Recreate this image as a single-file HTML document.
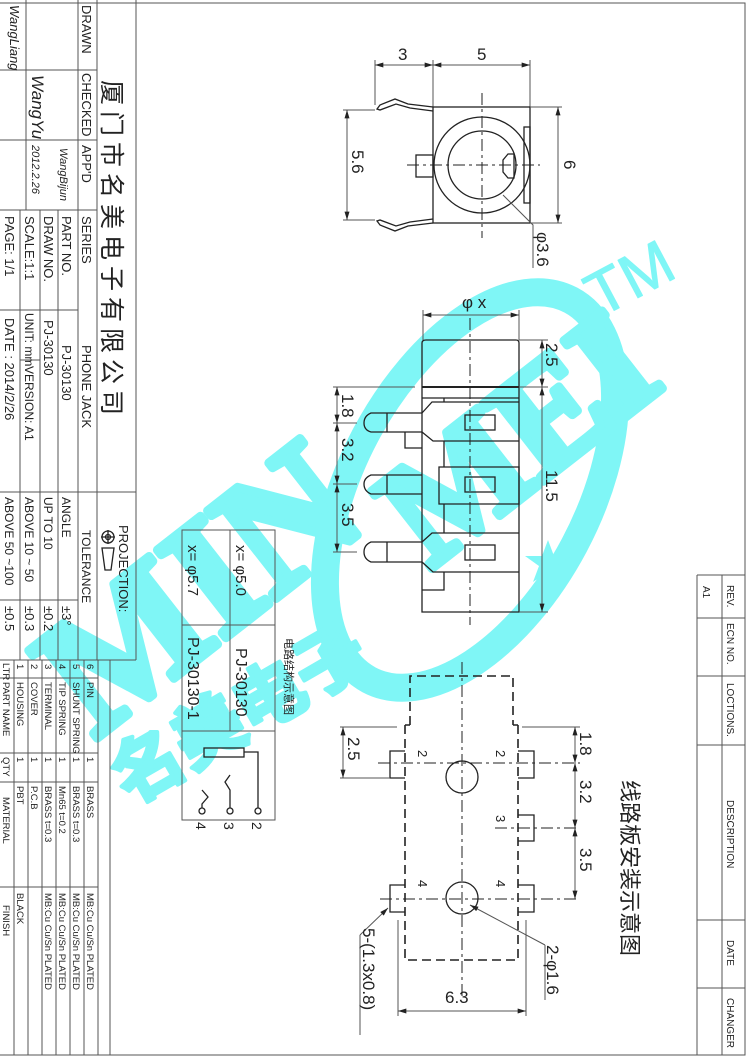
<!DOCTYPE html>
<html><head><meta charset="utf-8"><style>
html,body{margin:0;padding:0;background:#fff}
svg{display:block}
text{font-family:"Liberation Sans","Noto Sans CJK SC",sans-serif;fill:#222}
.s{stroke:#222;fill:none;stroke-width:1.3}
.g{stroke:#555;fill:none;stroke-width:1}
.d{stroke:#222;fill:none;stroke-width:1;stroke-dasharray:12 4 3 4}
.dd{stroke:#222;fill:none;stroke-width:1.6;stroke-dasharray:9 5}
.w{fill:#7ff6f6}
.wm{fill:#7ff6f6;stroke:#7ff6f6;stroke-linejoin:round}
</style></head><body>
<svg width="747" height="1060" viewBox="0 0 747 1060" xmlns="http://www.w3.org/2000/svg">
<defs>
<marker id="a" viewBox="0 0 10 6" refX="10" refY="3" markerWidth="10" markerHeight="5" orient="auto-start-reverse"><path d="M0,0 L10,3 L0,6 z" fill="#222"/></marker>
</defs>

<!-- watermark -->
<g>
<ellipse cx="470" cy="490" rx="118" ry="215" transform="rotate(28 470 490)" fill="none" stroke="#7ff6f6" stroke-width="28"/>
<text class="wm" transform="translate(95,740) rotate(-38)" style="font-family:'Liberation Serif',serif;font-weight:bold;font-size:170px;stroke-width:9">MIN</text>
<text class="wm" transform="translate(430,570) rotate(-38)" style="font-family:'Liberation Serif',serif;font-weight:bold;font-size:150px;stroke-width:9">MEI</text>
<text class="wm" transform="translate(600,318) rotate(-28)" style="font-size:62px;stroke-width:1">TM</text>
<text class="wm" transform="translate(130,805) rotate(-30)" style="font-size:70px;font-weight:bold;stroke-width:4;font-family:'Noto Sans CJK SC',sans-serif">名美电子</text>
<path class="w" d="M548,540 L554,556 L571,556 L557,566 L563,582 L548,572 L533,582 L539,566 L525,556 L542,556 z"/>
</g>

<!-- borders -->
<path class="g" d="M0,3 H745 V1055 H0"/>
<!-- title block -->
<path class="g" d="M136,0 V660 M97,0 V660 M78,0 V660 M0,660 H136 M0,70 H97 M0,140 H97 M0,210 H97 M26,0 V210 M58,210 V660 M40,210 V660 M20,210 V660 M0,310 H78 M20,360 H40 M0,492 H136 M0,600 H78"/>
<g font-size="13">
<text transform="translate(82,5) rotate(90)">DRAWN</text>
<text transform="translate(82,73) rotate(90)">CHECKED</text>
<text transform="translate(82,145) rotate(90)">APP'D</text>
<text transform="translate(82,216) rotate(90)">SERIES</text>
<text transform="translate(82,345) rotate(90)">PHONE JACK</text>
<text transform="translate(62,216) rotate(90)">PART  NO.</text>
<text transform="translate(62,345) rotate(90)">PJ-30130</text>
<text transform="translate(44,216) rotate(90)">DRAW NO.</text>
<text transform="translate(44,320) rotate(90)">PJ-30130</text>
<text transform="translate(25,216) rotate(90)">SCALE:1:1</text>
<text transform="translate(25,313) rotate(90)" font-size="12">UNIT: mm</text>
<text transform="translate(25,366) rotate(90)" font-size="12">VERSION: A1</text>
<text transform="translate(5,216) rotate(90)">PAGE:  1/1</text>
<text transform="translate(5,318) rotate(90)">DATE : 2014/2/26</text>
<text transform="translate(119,525) rotate(90)">PROJECTION:</text>
<text transform="translate(82,530) rotate(90)" font-size="12">TOLERANCE</text>
<text transform="translate(62,497) rotate(90)" font-size="12">ANGLE</text>
<text transform="translate(44,497) rotate(90)" font-size="12">UP TO 10</text>
<text transform="translate(25,497) rotate(90)" font-size="12">ABOVE 10 ~ 50</text>
<text transform="translate(5,497) rotate(90)" font-size="12">ABOVE 50 ~100</text>
<text transform="translate(62,606) rotate(90)">±3°</text>
<text transform="translate(44,606) rotate(90)">±0.2</text>
<text transform="translate(25,606) rotate(90)">±0.3</text>
<text transform="translate(5,606) rotate(90)">±0.5</text>
</g>
<text transform="translate(103,80) rotate(90)" font-size="25" style="font-family:'Noto Sans CJK SC',sans-serif;letter-spacing:6px">厦门市名美电子有限公司</text>
<g font-style="italic" style="font-family:'Liberation Serif',serif">
<text transform="translate(10,5) rotate(90)" font-size="13">WangLiang</text>
<text transform="translate(32,75) rotate(90)" font-size="17">WangYu</text>
<text transform="translate(60,148) rotate(90)" font-size="11">WangBijun</text>
<text transform="translate(32,145) rotate(90)" font-size="11">2012.2.26</text>
</g>
<!-- projection symbol -->
<circle cx="108" cy="537" r="6" class="s"/><circle cx="108" cy="537" r="2.5" class="s"/>
<path class="s" d="M101,537 H115 M108,530 V544 M102,548 L114,548 L111,570 L105,570 z"/>

<!-- parts list -->
<path class="g" d="M110,660 V1055 M14,660 V1055 M28,660 V1055 M42,660 V1055 M56,660 V1055 M70,660 V1055 M84,660 V1055 M98,660 V1055 M0,678 H98 M0,753 H98 M0,782 H98 M0,887 H98"/>
<g font-size="9.5">
<text transform="translate(3,663) rotate(90)">LTR</text>
<text transform="translate(3,682) rotate(90)">PART NAME</text>
<text transform="translate(3,757) rotate(90)">QTY</text>
<text transform="translate(3,797) rotate(90)">MATERIAL</text>
<text transform="translate(3,905) rotate(90)">FINISH</text>
<text transform="translate(17,664) rotate(90)">1</text><text transform="translate(17,682) rotate(90)">HOUSING</text><text transform="translate(17,757) rotate(90)">1</text><text transform="translate(17,786) rotate(90)">PBT</text><text transform="translate(17,893) rotate(90)">BLACK</text>
<text transform="translate(31,664) rotate(90)">2</text><text transform="translate(31,682) rotate(90)">COVER</text><text transform="translate(31,757) rotate(90)">1</text><text transform="translate(31,786) rotate(90)">P.C.B</text>
<text transform="translate(45,664) rotate(90)">3</text><text transform="translate(45,682) rotate(90)">TERMINAL</text><text transform="translate(45,757) rotate(90)">1</text><text transform="translate(45,786) rotate(90)">BRASS  t=0.3</text><text transform="translate(45,893) rotate(90)">MB:Cu   Cu/Sn   PLATED</text>
<text transform="translate(59,664) rotate(90)">4</text><text transform="translate(59,682) rotate(90)">TIP  SPRING</text><text transform="translate(59,757) rotate(90)">1</text><text transform="translate(59,786) rotate(90)">Mn65  t=0.2</text><text transform="translate(59,893) rotate(90)">MB:Cu   Cu/Sn   PLATED</text>
<text transform="translate(73,664) rotate(90)">5</text><text transform="translate(73,682) rotate(90)">SHUNT  SPRING</text><text transform="translate(73,757) rotate(90)">1</text><text transform="translate(73,786) rotate(90)">BRASS  t=0.3</text><text transform="translate(73,893) rotate(90)">MB:Cu   Cu/Sn   PLATED</text>
<text transform="translate(87,664) rotate(90)">6</text><text transform="translate(87,682) rotate(90)">PIN</text><text transform="translate(87,757) rotate(90)">1</text><text transform="translate(87,786) rotate(90)">BRASS</text><text transform="translate(87,893) rotate(90)">MB:Cu   Cu/Sn   PLATED</text>
</g>

<!-- revision table -->
<path class="g" d="M697,575 H745 M697,575 V1055 M722,575 V1055 M697,618 H745 M697,676 H745 M697,745 H745 M697,920 H745 M697,988 H745"/>
<g font-size="10">
<text transform="translate(727,585) rotate(90)">REV.</text>
<text transform="translate(727,623) rotate(90)">ECN NO.</text>
<text transform="translate(727,683) rotate(90)">LOCTIONS.</text>
<text transform="translate(727,800) rotate(90)">DESCRIPTION</text>
<text transform="translate(727,940) rotate(90)">DATE</text>
<text transform="translate(727,998) rotate(90)">CHANGER</text>
<text transform="translate(703,586) rotate(90)">A1</text>
</g>
<text transform="translate(622,780) rotate(90)" font-size="22" style="font-family:'Noto Sans CJK SC',sans-serif">线路板安装示意图</text>

<!-- top view -->
<g>
<path class="g" d="M375,60 V105 M433,60 V107 M530,60 V107"/>
<path class="g" d="M375,65 H433" marker-start="url(#a)" marker-end="url(#a)"/>
<path class="g" d="M433,65 H530" marker-start="url(#a)" marker-end="url(#a)"/>
<text x="398" y="60" font-size="17">3</text><text x="477" y="60" font-size="17">5</text>
<rect x="433" y="107" width="97" height="116" class="s"/>
<rect x="524" y="127" width="6" height="76" class="s"/>
<circle cx="482" cy="165" r="48" class="s"/><circle cx="482" cy="165" r="34" class="s"/>
<path class="s" d="M508,154 L503,160 L503,172 L508,178 L514,178 L514,154 z"/>
<rect x="416" y="155" width="17" height="22" class="s"/>
<path class="s" d="M433,107 L408,104 L395,99 L380,105 L377,109 L380,110 L396,104 L410,108 L433,111"/>
<path class="s" d="M433,223 L408,226 L395,231 L380,225 L377,221 L380,220 L396,226 L410,222 L433,219"/>
<path class="d" d="M407,165 H540 M482,93 V238"/>
<path class="g" d="M343,110 H375 M343,220 H375"/>
<path class="g" d="M347,110 V220" marker-start="url(#a)" marker-end="url(#a)"/>
<text transform="translate(352,150) rotate(90)" font-size="17">5.6</text>
<path class="g" d="M530,107 H562 M530,223 H562"/>
<path class="g" d="M558,107 V223" marker-start="url(#a)" marker-end="url(#a)"/>
<text transform="translate(564,160) rotate(90)" font-size="17">6</text>
<path class="g" d="M503,195 L533,225 V268"/>
<text transform="translate(537,232) rotate(90)" font-size="17">φ3.6</text>
</g>

<!-- side view -->
<g>
<path class="g" d="M423,310 V340 M519,310 V340"/>
<path class="g" d="M423,315 H519" marker-start="url(#a)" marker-end="url(#a)"/>
<text x="462" y="308" font-size="17">φ x</text>
<path class="s" d="M426,340 H516 Q519,340 519,343 V612 H422 V343 Q422,340 426,340 z"/>
<path class="s" d="M422,387 H519" style="stroke-width:2"/>
<path class="s" d="M422,398 H519 M444,398 V402"/>
<path class="s" d="M422,413 H371 Q364,416 364,423 Q364,430 371,432 H422 M387,413 V432"/>
<path class="s" d="M422,413 L432,402 H519 M422,432 L433,441 H519"/>
<path class="s" d="M405,432 V448 H422"/>
<path class="s" d="M422,475 H371 Q364,478 364,484 Q364,491 371,494 H422 M387,475 V494"/>
<path class="s" d="M422,542 H371 Q364,545 364,552 Q364,559 371,562 H422 M387,542 V562"/>
<path class="s" d="M422,542 L432,533 H519 M422,562 L433,572 H519"/>
<path class="s" d="M444,441 V467 M439,467 H519 V504 H439 z M444,504 V533 M444,572 V590 H422"/>
<rect x="465" y="415" width="30" height="15" class="s"/>
<rect x="465" y="477" width="30" height="15" class="s"/>
<rect x="465" y="545" width="30" height="15" class="s"/>
<path class="d" d="M470,318 V625"/>
<path class="g" d="M333,387 H415 M519,340 H548 M519,387 H548 M519,612 H548 M333,423 H357 M333,484 H357 M333,552 H357"/>
<path class="g" d="M542,340 V387" marker-start="url(#a)" marker-end="url(#a)"/>
<path class="g" d="M542,387 V612" marker-start="url(#a)" marker-end="url(#a)"/>
<text transform="translate(546,343) rotate(90)" font-size="17">2.5</text>
<text transform="translate(546,470) rotate(90)" font-size="17">11.5</text>
<path class="g" d="M337,387 V423" marker-start="url(#a)" marker-end="url(#a)"/>
<path class="g" d="M337,423 V484" marker-start="url(#a)" marker-end="url(#a)"/>
<path class="g" d="M337,484 V552" marker-start="url(#a)" marker-end="url(#a)"/>
<text transform="translate(342,394) rotate(90)" font-size="17">1.8</text>
<text transform="translate(342,438) rotate(90)" font-size="17">3.2</text>
<text transform="translate(342,503) rotate(90)" font-size="17">3.5</text>
</g>

<!-- circuit table -->
<g>
<path class="g" d="M182,530 H275 V820 H182 z M230,530 V731 M182,625 H275 M182,731 H275"/>
<text transform="translate(236,545) rotate(90)" font-size="15">x= φ5.0</text>
<text transform="translate(188,545) rotate(90)" font-size="15">x= φ5.7</text>
<text transform="translate(236,648) rotate(90)" font-size="16">PJ-30130</text>
<text transform="translate(188,637) rotate(90)" font-size="16">PJ-30130-1</text>
<text transform="translate(285,638) rotate(90)" font-size="11" style="font-family:'Noto Sans CJK SC',sans-serif">电路结构示意图</text>
<rect x="204" y="748" width="40" height="9" class="s"/>
<path class="s" d="M244,752 H258 V808 M230,775 L225,782 L230,790 V808 M202,790 L208,797 L202,804 V808"/>
<circle cx="258" cy="811" r="3" class="s"/><circle cx="230" cy="811" r="3" class="s"/><circle cx="202" cy="811" r="3" class="s"/>
<text transform="translate(252,822) rotate(90)" font-size="14">2</text>
<text transform="translate(224,822) rotate(90)" font-size="14">3</text>
<text transform="translate(196,822) rotate(90)" font-size="14">4</text>
</g>

<!-- PCB layout -->
<g>
<path class="dd" d="M410,725 V676 H513 V725 M405,725 H410 M513,725 H518 M405,725 V960 H518 V725"/>
<path class="s" d="M405,751 H390 V778 H405 M518,751 H534 V778 H518 M518,815 H534 V841 H518 M405,885 H390 V912 H405 M518,885 H534 V912 H518"/>
<circle cx="462" cy="777" r="16" class="s"/><circle cx="462" cy="898" r="16" class="s"/>
<path class="d" d="M462,662 V1000 M378,763 H580 M495,828 H580 M380,899 H580"/>
<text transform="translate(418,750) rotate(90)" font-size="13">2</text>
<text transform="translate(496,750) rotate(90)" font-size="13">2</text>
<text transform="translate(496,815) rotate(90)" font-size="13">3</text>
<text transform="translate(418,880) rotate(90)" font-size="13">4</text>
<text transform="translate(496,880) rotate(90)" font-size="13">4</text>
<path class="g" d="M522,727 H580 M340,727 H397 M340,778 H390"/>
<path class="g" d="M575,727 V763" marker-start="url(#a)" marker-end="url(#a)"/>
<path class="g" d="M575,763 V828" marker-start="url(#a)" marker-end="url(#a)"/>
<path class="g" d="M575,828 V899" marker-start="url(#a)" marker-end="url(#a)"/>
<text transform="translate(580,732) rotate(90)" font-size="17">1.8</text>
<text transform="translate(580,780) rotate(90)" font-size="17">3.2</text>
<text transform="translate(580,848) rotate(90)" font-size="17">3.5</text>
<path class="g" d="M343,727 V778" marker-start="url(#a)" marker-end="url(#a)"/>
<text transform="translate(348,737) rotate(90)" font-size="17">2.5</text>
<path class="g" d="M398,920 V1016 M526,920 V1016"/>
<path class="g" d="M398,1011 H526" marker-start="url(#a)" marker-end="url(#a)"/>
<text x="445" y="1003" font-size="17">6.3</text>
<path class="g" d="M545,945 L470,905" marker-end="url(#a)"/>
<path class="g" d="M545,945 V1000"/>
<text transform="translate(547,945) rotate(90)" font-size="17">2-φ1.6</text>
<path class="g" d="M360,935 L388,908" marker-end="url(#a)"/>
<path class="g" d="M360,935 V1035"/>
<text transform="translate(363,928) rotate(90)" font-size="17">5-(1.3x0.8)</text>
</g>
</svg>
</body></html>
